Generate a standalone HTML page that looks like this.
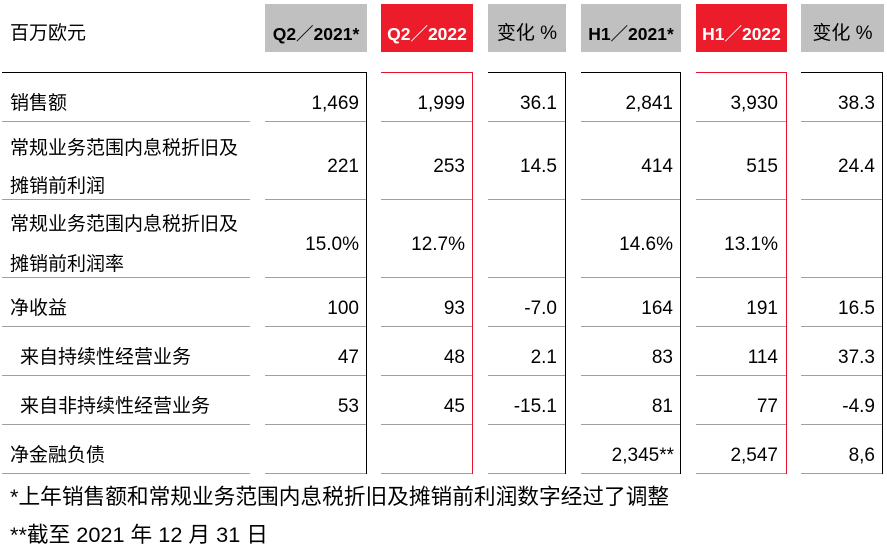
<!DOCTYPE html>
<html><head><meta charset="utf-8">
<style>
*{margin:0;padding:0;box-sizing:border-box}
html,body{width:887px;height:549px;background:#fff;overflow:hidden}
body{position:relative;font-family:"Liberation Sans","Noto Sans CJK SC",sans-serif;color:#000}
.t{position:absolute;height:30px;line-height:30px;font-size:19px;white-space:nowrap;margin-top:2px}
.r{text-align:right}
.box{position:absolute;top:4px;height:48px;background:#c0c0c0}
.box.red{background:#ed1c2b;color:#fff}
.bt{position:absolute;left:0;right:0;top:15px;height:30px;line-height:30px;text-align:center;font-size:19px;white-space:nowrap}
.b{font-weight:bold;font-size:17.5px}
.h{position:absolute;height:1px}
.v{position:absolute;width:1px;top:72px;height:402px}
.g{background:#a0a0a0}
.k{background:#000}
.rd{background:#e8112d}
.fn{position:absolute;left:10px;height:30px;line-height:30px;font-size:21.7px;white-space:nowrap}
</style></head><body>

<!-- header -->
<div class="t" style="left:10px;top:17px">百万欧元</div>
<div class="box" style="left:265px;width:102px"><div class="bt b">Q2／2021*</div></div>
<div class="box red" style="left:381px;width:92px"><div class="bt b">Q2／2022</div></div>
<div class="box" style="left:488px;width:78px"><div class="bt">变化 %</div></div>
<div class="box" style="left:581px;width:100px"><div class="bt b">H1／2021*</div></div>
<div class="box red" style="left:696px;width:91px"><div class="bt b">H1／2022</div></div>
<div class="box" style="left:801px;width:83px"><div class="bt">变化 %</div></div>

<!-- top lines -->
<div class="h k" style="left:2px;width:365px;top:72px"></div>
<div class="h rd" style="left:381px;width:92px;top:72px"></div>
<div class="h k" style="left:488px;width:78px;top:72px"></div>
<div class="h k" style="left:581px;width:100px;top:72px"></div>
<div class="h rd" style="left:696px;width:91px;top:72px"></div>
<div class="h k" style="left:801px;width:82px;top:72px"></div>

<!-- vertical lines -->
<div class="v k" style="left:366px"></div>
<div class="v rd" style="left:472px"></div>
<div class="v k" style="left:565px"></div>
<div class="v k" style="left:680px"></div>
<div class="v rd" style="left:786px"></div>
<div class="v k" style="left:882px"></div>

<!-- row lines -->
<div class="h g" style="left:2px;width:248px;top:121px"></div><div class="h g" style="left:265px;width:101px;top:121px"></div><div class="h g" style="left:381px;width:91px;top:121px"></div><div class="h g" style="left:488px;width:77px;top:121px"></div><div class="h g" style="left:581px;width:99px;top:121px"></div><div class="h g" style="left:696px;width:90px;top:121px"></div><div class="h g" style="left:801px;width:81px;top:121px"></div>
<div class="h g" style="left:2px;width:248px;top:199px"></div><div class="h g" style="left:265px;width:101px;top:199px"></div><div class="h g" style="left:381px;width:91px;top:199px"></div><div class="h g" style="left:488px;width:77px;top:199px"></div><div class="h g" style="left:581px;width:99px;top:199px"></div><div class="h g" style="left:696px;width:90px;top:199px"></div><div class="h g" style="left:801px;width:81px;top:199px"></div>
<div class="h g" style="left:2px;width:248px;top:277px"></div><div class="h g" style="left:265px;width:101px;top:277px"></div><div class="h g" style="left:381px;width:91px;top:277px"></div><div class="h g" style="left:488px;width:77px;top:277px"></div><div class="h g" style="left:581px;width:99px;top:277px"></div><div class="h g" style="left:696px;width:90px;top:277px"></div><div class="h g" style="left:801px;width:81px;top:277px"></div>
<div class="h g" style="left:2px;width:248px;top:326px"></div><div class="h g" style="left:265px;width:101px;top:326px"></div><div class="h g" style="left:381px;width:91px;top:326px"></div><div class="h g" style="left:488px;width:77px;top:326px"></div><div class="h g" style="left:581px;width:99px;top:326px"></div><div class="h g" style="left:696px;width:90px;top:326px"></div><div class="h g" style="left:801px;width:81px;top:326px"></div>
<div class="h g" style="left:2px;width:248px;top:375px"></div><div class="h g" style="left:265px;width:101px;top:375px"></div><div class="h g" style="left:381px;width:91px;top:375px"></div><div class="h g" style="left:488px;width:77px;top:375px"></div><div class="h g" style="left:581px;width:99px;top:375px"></div><div class="h g" style="left:696px;width:90px;top:375px"></div><div class="h g" style="left:801px;width:81px;top:375px"></div>
<div class="h g" style="left:2px;width:248px;top:424px"></div><div class="h g" style="left:265px;width:101px;top:424px"></div><div class="h g" style="left:381px;width:91px;top:424px"></div><div class="h g" style="left:488px;width:77px;top:424px"></div><div class="h g" style="left:581px;width:99px;top:424px"></div><div class="h g" style="left:696px;width:90px;top:424px"></div><div class="h g" style="left:801px;width:81px;top:424px"></div>
<div class="h g" style="left:2px;width:248px;top:473px"></div><div class="h g" style="left:265px;width:101px;top:473px"></div><div class="h g" style="left:381px;width:91px;top:473px"></div><div class="h g" style="left:488px;width:77px;top:473px"></div><div class="h g" style="left:581px;width:99px;top:473px"></div><div class="h g" style="left:696px;width:90px;top:473px"></div><div class="h g" style="left:801px;width:81px;top:473px"></div>

<!-- labels -->
<div class="t" style="left:10px;top:87px">销售额</div>
<div class="t" style="left:10px;top:132px">常规业务范围内息税折旧及</div>
<div class="t" style="left:10px;top:170px">摊销前利润</div>
<div class="t" style="left:10px;top:208px">常规业务范围内息税折旧及</div>
<div class="t" style="left:10px;top:248px">摊销前利润率</div>
<div class="t" style="left:10px;top:292px">净收益</div>
<div class="t" style="left:20px;top:341px">来自持续性经营业务</div>
<div class="t" style="left:20px;top:390px">来自非持续性经营业务</div>
<div class="t" style="left:10px;top:439px">净金融负债</div>

<!-- col1 right 359 -->
<div class="t r" style="right:528px;top:87px">1,469</div>
<div class="t r" style="right:528px;top:150px">221</div>
<div class="t r" style="right:528px;top:228px">15.0%</div>
<div class="t r" style="right:528px;top:292px">100</div>
<div class="t r" style="right:528px;top:341px">47</div>
<div class="t r" style="right:528px;top:390px">53</div>
<!-- col2 right 465 -->
<div class="t r" style="right:422px;top:87px">1,999</div>
<div class="t r" style="right:422px;top:150px">253</div>
<div class="t r" style="right:422px;top:228px">12.7%</div>
<div class="t r" style="right:422px;top:292px">93</div>
<div class="t r" style="right:422px;top:341px">48</div>
<div class="t r" style="right:422px;top:390px">45</div>
<!-- col3 right 557 -->
<div class="t r" style="right:330px;top:87px">36.1</div>
<div class="t r" style="right:330px;top:150px">14.5</div>
<div class="t r" style="right:330px;top:292px">-7.0</div>
<div class="t r" style="right:330px;top:341px">2.1</div>
<div class="t r" style="right:330px;top:390px">-15.1</div>
<!-- col4 right 673 -->
<div class="t r" style="right:214px;top:87px">2,841</div>
<div class="t r" style="right:214px;top:150px">414</div>
<div class="t r" style="right:214px;top:228px">14.6%</div>
<div class="t r" style="right:214px;top:292px">164</div>
<div class="t r" style="right:214px;top:341px">83</div>
<div class="t r" style="right:214px;top:390px">81</div>
<div class="t r" style="right:213px;top:439px">2,345**</div>
<!-- col5 right 778 -->
<div class="t r" style="right:109px;top:87px">3,930</div>
<div class="t r" style="right:109px;top:150px">515</div>
<div class="t r" style="right:109px;top:228px">13.1%</div>
<div class="t r" style="right:109px;top:292px">191</div>
<div class="t r" style="right:109px;top:341px">114</div>
<div class="t r" style="right:109px;top:390px">77</div>
<div class="t r" style="right:109px;top:439px">2,547</div>
<!-- col6 right 875 -->
<div class="t r" style="right:12px;top:87px">38.3</div>
<div class="t r" style="right:12px;top:150px">24.4</div>
<div class="t r" style="right:12px;top:292px">16.5</div>
<div class="t r" style="right:12px;top:341px">37.3</div>
<div class="t r" style="right:12px;top:390px">-4.9</div>
<div class="t r" style="right:12px;top:439px">8,6</div>

<!-- footnotes -->
<div class="fn" style="top:482px">*上年销售额和常规业务范围内息税折旧及摊销前利润数字经过了调整</div>
<div class="fn" style="top:520px">**截至 2021 年 12 月 31 日</div>

</body></html>
